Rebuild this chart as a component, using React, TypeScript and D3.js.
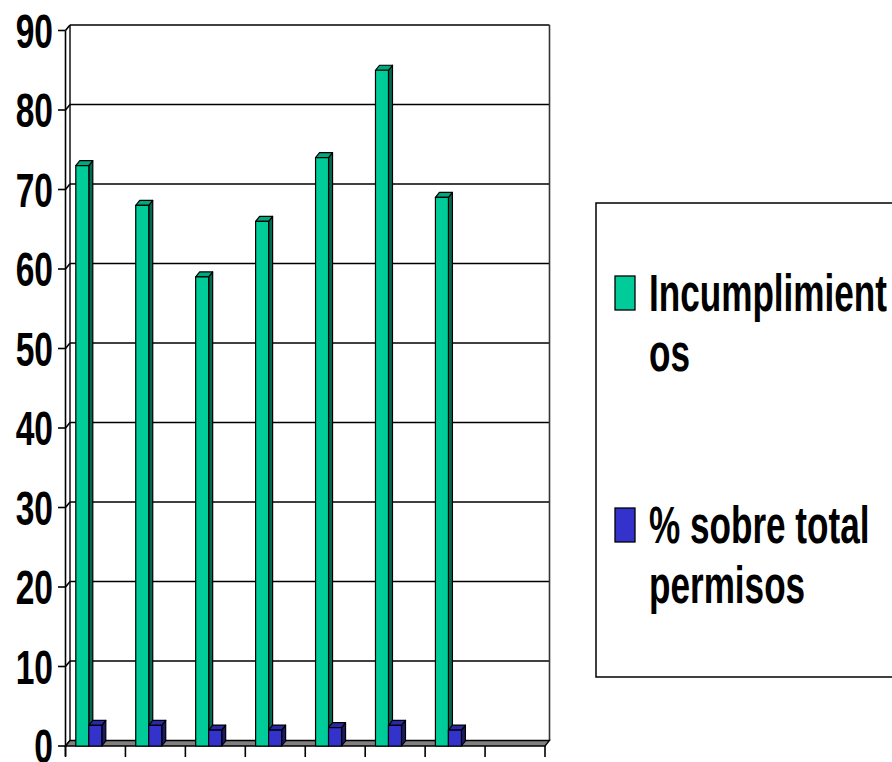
import * as d3 from "d3";

const categories = ["1", "2", "3", "4", "5", "6", "7", "8"];
const series = ["Incumplimientos", "% sobre total permisos"];
const incumplimientos = [73, 68, 59, 66, 74, 85, 69];
const porcentaje = [2.6, 2.6, 2.0, 2.0, 2.3, 2.6, 2.0];
const yTicks = [0, 10, 20, 30, 40, 50, 60, 70, 80, 90];
const legendLines = [
  ["Incumplimient", "os"],
  ["% sobre total", "permisos"],
];

const colors = [
  { front: "#00CC99", side: "#006B50", top: "#00A87E" },
  { front: "#3333CC", side: "#1A1A66", top: "#2929A8" },
];

const FONT = "'Liberation Sans', Arial, Helvetica, sans-serif";

export default function App() {
  const width = 892;
  const height = 762;

  // front plane of the plot
  const left = 65.5;
  const right = 545;
  const DX = 4.5; // wall depth
  const DY = -5.5;
  const bdx = 4; // bar depth
  const bdy = -5;

  const x = d3.scaleBand().domain(categories).range([left, right]).padding(0);
  const inner = d3.scaleBand().domain(series).range([10.3, 36.3]).padding(0);
  const y = d3.scaleLinear().domain([0, 90]).range([746, 30.5]);

  const values = [incumplimientos, porcentaje];

  const base = y(0);
  const top = y(90);

  const bar = (xx: number, w: number, v: number, c: typeof colors[0], key: string) => {
    const yy = y(v);
    const topFace = `M${xx},${yy}L${xx + bdx},${yy + bdy}L${xx + w + bdx},${yy + bdy}L${xx + w},${yy}Z`;
    const side = `M${xx + w},${yy}L${xx + w + bdx},${yy + bdy}L${xx + w + bdx},${base + bdy}L${xx + w},${base}Z`;
    return (
      <g key={key} stroke="#000" strokeWidth={1.2} strokeLinejoin="round">
        <path d={side} fill={c.side} />
        <path d={topFace} fill={c.top} />
        <rect x={xx} y={yy} width={w} height={base - yy} fill={c.front} />
      </g>
    );
  };

  return (
    <svg
      width={width}
      height={height}
      style={{ position: "absolute", left: 0, top: 0, background: "#fff" }}
    >
      {/* back wall */}
      <rect
        x={left + DX}
        y={top + DY}
        width={right - left}
        height={base - top}
        fill="#fff"
        stroke="none"
      />
      {/* gridlines on back wall + side wall */}
      {yTicks.map((t) => (
        <g key={"g" + t} stroke="#000" strokeWidth={1.6} fill="none">
          {t > 0 && (
            <line x1={left + DX} x2={right + DX} y1={y(t) + DY} y2={y(t) + DY} />
          )}
          <line x1={left} x2={left + DX} y1={y(t)} y2={y(t) + DY} />
          <line x1={left - 7.5} x2={left} y1={y(t)} y2={y(t)} />
        </g>
      ))}
      {/* wall edges */}
      <line x1={left + DX} x2={left + DX} y1={top + DY} y2={base + DY} stroke="#000" strokeWidth={1.4} />
      <line x1={right + DX} x2={right + DX} y1={top + DY} y2={base + DY} stroke="#333" strokeWidth={1.6} />
      <line x1={left} x2={left} y1={top} y2={base + 10} stroke="#000" strokeWidth={1.6} />

      {/* floor */}
      <path
        d={`M${left},${base}L${left + DX},${base + DY}L${right + DX},${base + DY}L${right},${base}Z`}
        fill="#808080"
        stroke="#000"
        strokeWidth={1.3}
      />

      {/* x ticks */}
      {categories.map((c) => (
        <line key={"t" + c} x1={x(c)!} x2={x(c)!} y1={base} y2={base + 11} stroke="#000" strokeWidth={1.6} />
      ))}
      <line x1={right} x2={right} y1={base} y2={base + 11} stroke="#000" strokeWidth={1.6} />

      {/* bars */}
      {categories.map((c, i) =>
        values.map((vals, s) =>
          vals[i] === undefined
            ? null
            : bar(x(c)! + inner(series[s])!, inner.bandwidth(), vals[i], colors[s], c + "-" + s)
        )
      )}

      {/* y labels */}
      {yTicks.map((t) => (
        <text
          key={"l" + t}
          transform={`translate(53,${y(t)}) scale(0.84,1.2)`}
          y={14.3}
          textAnchor="end"
          fontFamily={FONT}
          fontWeight="bold"
          fontSize={40}
          fill="#000"
        >
          {t}
        </text>
      ))}

      {/* legend */}
      <rect x={596} y={203} width={400} height={474} fill="#fff" stroke="#000" strokeWidth={1.5} />
      {legendLines.map((lines, s) => {
        const baseY = s === 0 ? 311 : 543;
        return (
          <g key={"lg" + s}>
            <rect
              x={615}
              y={baseY - 35}
              width={20}
              height={34}
              fill={colors[s].front}
              stroke="#000"
              strokeWidth={1.3}
            />
            {lines.map((ln, k) => (
              <text
                key={k}
                transform={`translate(649,${baseY + k * 60}) scale(0.878,1.29)`}
                fontFamily={FONT}
                fontWeight="bold"
                fontSize={40}
                fill="#000"
              >
                {ln}
              </text>
            ))}
          </g>
        );
      })}
    </svg>
  );
}
